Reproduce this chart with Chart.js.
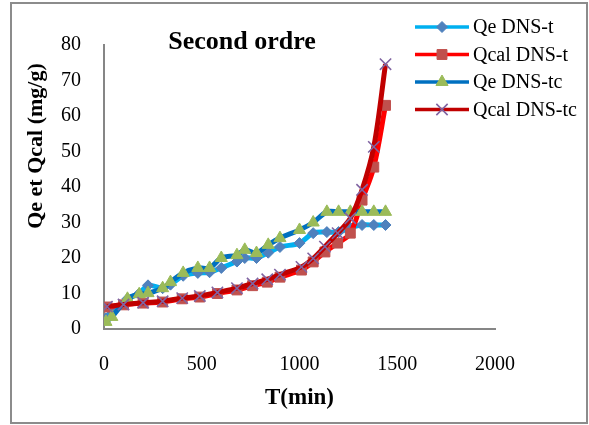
<!DOCTYPE html>
<html><head><meta charset="utf-8">
<script src="https://cdn.jsdelivr.net/npm/chart.js@4/dist/chart.umd.min.js"></script>
<style>html,body{margin:0;padding:0;background:#fff}#wrap{width:589px;height:425px}</style>
</head><body><div id="wrap"><canvas id="c" width="589" height="425"></canvas></div>
<script>
const chartTitle = 'Second ordre';
const xTitle = 'T(min)';
const yTitle = 'Qe et Qcal (mg/g)';
const seriesNames = ['Qe DNS-t', 'Qcal DNS-t', 'Qe DNS-tc', 'Qcal DNS-tc'];
const xTickValues = [0, 500, 1000, 1500, 2000];
const yTickValues = [0, 10, 20, 30, 40, 50, 60, 70, 80];

// time (min) for the experimental series
const qeTimes = [10, 40, 120, 180, 225, 300, 340, 405, 480, 540, 600, 680, 720, 780, 840, 900, 1000, 1070, 1140, 1200, 1260, 1320, 1380, 1440];
const qeDnsT  = [3, 5, 8.5, 10, 12.3, 11.5, 12.5, 15, 15.8, 16, 17.2, 19, 20, 20, 21.5, 23.1, 24.2, 27, 27.3, 27.3, 28.5, 29.3, 29.3, 29.3];
const qeDnsTc = [2, 3.4, 8.5, 9.8, 10.1, 11.5, 13.2, 15.8, 17.2, 17.2, 20, 20.8, 22.3, 21.4, 23.7, 25.6, 27.9, 30, 33, 33, 33, 33, 33, 33];

// time (min) for the calculated series
const qcalTimes = [15, 100, 200, 300, 400, 490, 580, 680, 760, 835, 900, 1010, 1070, 1130, 1195, 1260, 1320, 1380, 1440];
const qcalDnsT  = [6.2, 6.8, 7.3, 7.6, 8.5, 9.0, 10.0, 11.0, 12.2, 13.2, 14.6, 16.6, 18.9, 21.7, 24.2, 27, 36.3, 45.6, 63];
const qcalDnsTc = [6.3, 6.9, 7.4, 7.8, 8.7, 9.3, 10.3, 11.5, 12.8, 14.0, 15.3, 17.5, 19.9, 23.2, 27, 31.2, 39.2, 51.3, 74.6];

const FONT = 'Liberation Serif';
const pairs = (xs, ys) => xs.map((x, i) => ({x: x, y: ys[i]}));

const styles = [
  {line: '#00B0F0', marker: '#4F81BD', style: 'rectRot', r: 5.5, bw: 1},
  {line: '#FF0000', marker: '#C0504D', style: 'rect', r: 7, bw: 1},
  {line: '#0070C0', marker: '#9BBB59', style: 'triangle', r: 7, bw: 1},
  {line: '#C00000', marker: '#8064A2', style: 'crossRot', r: 8, bw: 1.6}
];
const seriesData = [pairs(qeTimes, qeDnsT), pairs(qcalTimes, qcalDnsT), pairs(qeTimes, qeDnsTc), pairs(qcalTimes, qcalDnsTc)];

const datasets = seriesNames.map((name, i) => ({
  label: name,
  data: seriesData[i],
  showLine: true,
  borderColor: styles[i].line,
  borderWidth: 5,
  tension: 0.35,
  pointStyle: styles[i].style,
  pointRadius: styles[i].r,
  pointBackgroundColor: styles[i].marker,
  pointBorderColor: styles[i].marker,
  pointBorderWidth: styles[i].bw,
  order: 4 - i
}));

function drawMarker(ctx, style, x, y, r, color, bw) {
  ctx.save();
  ctx.fillStyle = color; ctx.strokeStyle = color; ctx.lineWidth = bw;
  ctx.beginPath();
  if (style === 'rectRot') {
    ctx.moveTo(x - r, y); ctx.lineTo(x, y - r); ctx.lineTo(x + r, y); ctx.lineTo(x, y + r); ctx.closePath();
    ctx.fill(); ctx.stroke();
  } else if (style === 'rect') {
    const s = r * Math.SQRT1_2;
    ctx.rect(x - s, y - s, 2 * s, 2 * s); ctx.fill(); ctx.stroke();
  } else if (style === 'triangle') {
    const a = 2 * Math.PI / 3;
    ctx.moveTo(x, y - r);
    ctx.lineTo(x + Math.sin(a) * r, y - Math.cos(a) * r);
    ctx.lineTo(x + Math.sin(2 * a) * r, y - Math.cos(2 * a) * r);
    ctx.closePath(); ctx.fill(); ctx.stroke();
  } else {
    const o = r * Math.SQRT1_2;
    ctx.moveTo(x - o, y - o); ctx.lineTo(x + o, y + o);
    ctx.moveTo(x + o, y - o); ctx.lineTo(x - o, y + o);
    ctx.stroke();
  }
  ctx.restore();
}

const decor = {
  id: 'decor',
  afterDraw(chart) {
    const ctx = chart.ctx;
    ctx.save();
    // outer frame
    ctx.strokeStyle = '#8c8c8c'; ctx.lineWidth = 2;
    ctx.strokeRect(11, 3, 576, 420);
    // title
    ctx.fillStyle = '#000';
    ctx.font = 'bold 26px "' + FONT + '"';
    ctx.textAlign = 'center'; ctx.textBaseline = 'middle';
    ctx.fillText(chartTitle, 242, 42);
    // y axis title
    ctx.save();
    ctx.translate(36, 146); ctx.rotate(-Math.PI / 2);
    ctx.font = 'bold 22px "' + FONT + '"';
    ctx.fillText(yTitle, 0, 0);
    ctx.restore();
    // legend
    const ys = [27, 54.5, 82, 109.5];
    ctx.font = '20px "' + FONT + '"';
    ctx.textAlign = 'left';
    seriesNames.forEach((name, i) => {
      const y = ys[i];
      ctx.strokeStyle = styles[i].line; ctx.lineWidth = 3.5;
      ctx.beginPath(); ctx.moveTo(415, y); ctx.lineTo(469, y); ctx.stroke();
      drawMarker(ctx, styles[i].style, 442, y, styles[i].r, styles[i].marker, styles[i].bw);
      ctx.fillStyle = '#000';
      ctx.fillText(name, 473, y + 1);
    });
    ctx.restore();
  }
};

new Chart(document.getElementById('c'), {
  type: 'scatter',
  data: {datasets: datasets},
  options: {
    responsive: false,
    animation: false,
    layout: {padding: {left: 0, right: 94, top: 45, bottom: 13}},
    plugins: {legend: {display: false}, tooltip: {enabled: false}, title: {display: false}},
    scales: {
      x: {
        type: 'linear', min: 0, max: 2000,
        afterBuildTicks(s) { s.ticks = xTickValues.map(v => ({value: v})); },
        ticks: {padding: 24, color: '#000', font: {family: FONT, size: 20}, maxRotation: 0, callback: v => String(v)},
        grid: {display: false, drawTicks: false},
        border: {display: true, color: '#868686', width: 2},
        title: {display: true, text: xTitle, color: '#000', font: {family: FONT, size: 23, weight: 'bold'}, padding: 0},
        afterFit(s) { s.height = 83; }
      },
      y: {
        type: 'linear', min: 0, max: 80,
        afterBuildTicks(s) { s.ticks = yTickValues.map(v => ({value: v})); },
        ticks: {padding: 23, color: '#000', font: {family: FONT, size: 20}, callback: v => String(v)},
        grid: {display: false, drawTicks: false},
        border: {display: true, color: '#868686', width: 2},
        afterFit(s) { s.width = 104; }
      }
    }
  },
  plugins: [decor]
});
</script>
</body></html>
